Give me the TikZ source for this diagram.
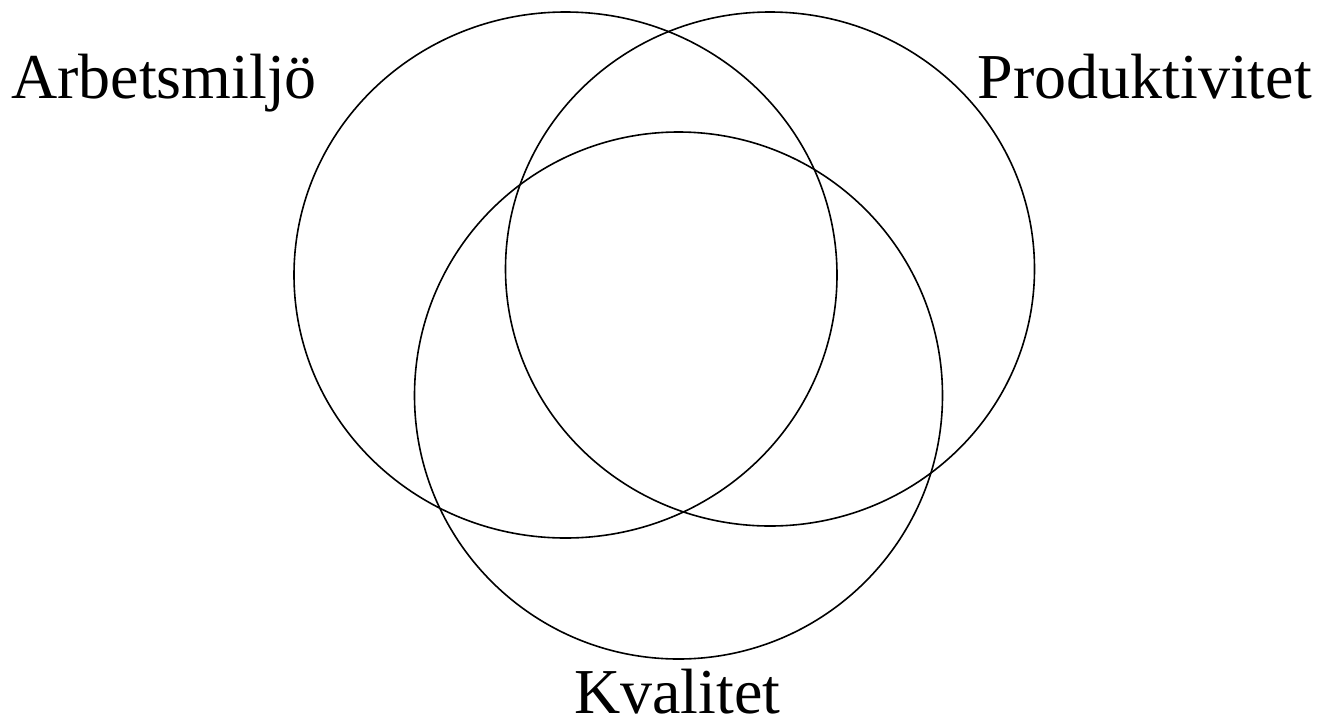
\documentclass[tikz,border=0pt]{standalone}
\usepackage{fontspec}
\setmainfont{Liberation Serif}
\begin{document}
\begin{tikzpicture}[x=1pt,y=-1pt,
  ring/.style={draw=black,line width=1.6pt},
  lbl/.style={inner sep=0pt,font=\fontsize{64}{70}\selectfont}]
\useasboundingbox (0,0) rectangle (1320,721);
\draw[ring] (565.5,275) ellipse [x radius=271.5, y radius=263];
\draw[ring] (770,269) ellipse [x radius=264.5, y radius=257];
\draw[ring] (678.5,395.5) ellipse [x radius=264, y radius=263.5];
\node[lbl,anchor=base west] (arb) at (11,98) {Arbetsmiljö};
\node[lbl,anchor=base east] (prod) at (1312,98) {Produktivitet};
\node[lbl,anchor=base west] (kval) at (574,713) {Kvalitet};
\end{tikzpicture}
\end{document}
